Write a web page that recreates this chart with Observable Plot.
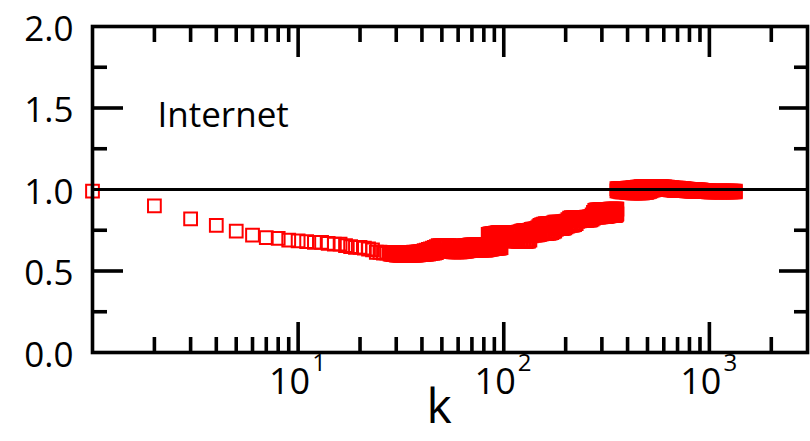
<!DOCTYPE html>
<html><head><meta charset="utf-8">
<script src="https://cdn.jsdelivr.net/npm/d3@7"></script>
<script src="https://cdn.jsdelivr.net/npm/@observablehq/plot@0.6"></script>
<style>html,body{margin:0;padding:0;background:#fff;overflow:hidden}svg{display:block}</style>
</head><body><div id="chart"></div>
<script>
// Isolated low-degree points (k, ratio)
const sparseDegree = [1,2,3,4,5,6,7,8,9,10,11,12,13,14,15,16,17,18,19,20,21,22,23,24,25,26,27];
const sparseRatio = [0.99,0.90,0.82,0.78,0.745,0.72,0.705,0.70,0.69,0.685,
  0.68,0.675,0.675,0.67,0.665,0.665,0.655,0.65,0.645,0.645,0.64,0.635,0.63,0.615,0.615,0.61,0.61];

// Dense region: at each degree, the upper and lower points of the scatter band
const bandDegree = [
  28,28.5,29,29.5,30,30.5,31,31.5,32,32.5,33,33.5,34,34.5,35,35.5,36,36.5,37,37.5,38,38.5,39,39.5,40,
  41,42,43,44,45,46,47,
  48,49,50,51,52,53,54,55,56,57,
  58,59,60,61,62,63,64,65,66,67,68,
  69,70,71,72,73,74,75,76,77,78,79,80,81,82,83,
  84,85,86,87,88,89,90,91,92,93,94,95,96,97,
  98,99,100,
  102,104,106,108,110,112,114,116,118,120,
  122,124,126,128,130,132,134,
  136,138,140,142,144,146,148,150,
  153,156,159,162,165,168,171,174,
  177,180,183,186,189,192,195,198,201,
  205,209,213,217,221,225,
  229,233,237,241,245,249,253,257,261,265,269,
  273,277,281,285,289,293,297,301,305,309,313,317,321,325,329,
  333,337,341,345,349,353,
  355,360,366,371,377,383,389,395,401,407,413,420,426,433,439,446,
  453,460,467,474,481,489,496,504,512,520,528,
  536,544,553,561,570,579,588,597,606,615,625,635,645,655,665,
  675,685,696,707,718,729,740,752,763,775,787,799,
  812,824,837,850,863,877,890,904,918,932,947,961,976,
  991,1007,1022,1038,1054,1071,1087,1104,1121,1139,1156,1174,1193,1211,1230,1249,1268,1288,1308,1337
];
const bandHigh = [
  0.612,0.612,0.613,0.613,0.613,0.613,0.614,0.613,0.612,0.613,0.614,0.613,0.612,0.613,0.614,0.613,0.614,0.615,0.614,0.615,0.616,0.617,0.618,0.619,0.62,
  0.625,0.628,0.632,0.636,0.64,0.645,0.65,
  0.655,0.656,0.656,0.655,0.655,0.656,0.655,0.654,0.653,0.652,
  0.652,0.651,0.651,0.652,0.652,0.653,0.654,0.655,0.656,0.657,0.658,
  0.66,0.66,0.661,0.661,0.66,0.66,0.661,0.661,0.66,0.66,0.661,0.661,0.66,0.66,0.662,
  0.725,0.726,0.727,0.728,0.729,0.73,0.731,0.732,0.733,0.734,0.735,0.736,0.736,0.736,
  0.736,0.736,0.736,
  0.736,0.733,0.73,0.73,0.73,0.73,0.732,0.735,0.738,0.742,
  0.745,0.747,0.747,0.748,0.748,0.749,0.75,
  0.755,0.757,0.757,0.758,0.76,0.765,0.772,0.78,
  0.785,0.788,0.79,0.79,0.79,0.79,0.792,0.795,
  0.80,0.80,0.80,0.80,0.80,0.801,0.802,0.804,0.806,
  0.815,0.825,0.828,0.828,0.828,0.828,
  0.828,0.828,0.828,0.828,0.828,0.829,0.83,0.83,0.832,0.835,0.845,
  0.86,0.872,0.875,0.875,0.875,0.876,0.876,0.876,0.877,0.877,0.877,0.878,0.878,0.878,0.879,
  0.88,0.88,0.88,0.88,0.88,0.88,
  1.006,1.006,1.006,1.006,1.006,1.006,1.007,1.007,1.008,1.008,1.009,1.01,1.011,1.012,1.013,1.014,
  1.015,1.016,1.017,1.017,1.017,1.018,1.018,1.018,1.018,1.018,1.018,
  1.018,1.018,1.018,1.017,1.017,1.017,1.017,1.016,1.016,1.015,1.014,1.013,1.012,1.011,1.01,
  1.009,1.008,1.008,1.008,1.007,1.007,1.006,1.005,1.004,1.003,1.002,1.001,
  1.0,1.0,1.0,0.999,0.999,0.998,0.998,0.997,0.996,0.995,0.994,0.993,0.992,
  0.991,0.99,0.99,0.99,0.99,0.99,0.99,0.99,0.99,0.99,0.99,0.99,0.99,0.99,0.99,0.99,0.99,0.99,0.99,0.99
];
const bandLow = [
  0.603,0.602,0.6,0.6,0.598,0.597,0.597,0.596,0.597,0.597,0.596,0.597,0.597,0.596,0.597,0.597,0.598,0.597,0.598,0.598,0.599,0.599,0.6,0.6,0.6,
  0.60,0.602,0.604,0.606,0.608,0.61,0.613,
  0.625,0.626,0.626,0.625,0.624,0.623,0.622,0.62,0.619,0.618,
  0.617,0.617,0.617,0.618,0.618,0.619,0.62,0.621,0.622,0.624,0.626,
  0.628,0.628,0.629,0.629,0.628,0.628,0.629,0.629,0.628,0.628,0.629,0.629,0.628,0.628,0.629,
  0.632,0.633,0.634,0.635,0.636,0.637,0.638,0.638,0.639,0.64,0.64,0.641,0.642,0.643,
  0.70,0.70,0.70,
  0.70,0.695,0.688,0.686,0.685,0.685,0.684,0.683,0.682,0.681,
  0.68,0.68,0.68,0.681,0.682,0.684,0.69,
  0.715,0.72,0.72,0.72,0.721,0.722,0.723,0.725,
  0.728,0.73,0.73,0.73,0.731,0.732,0.735,0.74,
  0.745,0.755,0.76,0.76,0.76,0.76,0.762,0.765,0.77,
  0.775,0.78,0.78,0.782,0.785,0.79,
  0.805,0.808,0.81,0.81,0.81,0.81,0.811,0.812,0.812,0.814,0.818,
  0.825,0.83,0.83,0.831,0.831,0.832,0.832,0.833,0.833,0.834,0.834,0.835,0.836,0.838,0.84,
  0.845,0.845,0.845,0.845,0.84,0.845,
  0.992,0.99,0.988,0.986,0.985,0.985,0.985,0.984,0.983,0.982,0.981,0.98,0.98,0.98,0.98,0.98,
  0.98,0.98,0.98,0.98,0.981,0.982,0.983,0.985,0.988,0.992,0.996,
  0.998,1.0,1.0,1.0,1.0,1.0,1.0,1.0,1.0,1.0,1.0,0.999,0.998,0.997,0.996,
  0.995,0.995,0.995,0.995,0.995,0.994,0.994,0.993,0.993,0.992,0.992,0.991,
  0.99,0.99,0.99,0.99,0.99,0.99,0.99,0.989,0.989,0.988,0.988,0.987,0.987,
  0.986,0.986,0.985,0.985,0.985,0.985,0.985,0.985,0.985,0.985,0.985,0.985,0.985,0.985,0.985,0.985,0.985,0.985,0.985,0.985
];
// the lower cluster also reaches k = 355 (value below 1)
const extraDegree = [355, 355];
const extraRatio = [0.88, 0.85];

const yTicks = [0, 0.5, 1, 1.5, 2];
const yMajorMarks = [0.5, 1.5];
const yMinorMarks = [0.25, 0.75, 1.25, 1.75];
const xMajorTicks = [10, 100, 1000];
const xExponents = ["1", "2", "3"];
const xMinorTicks = [2,3,4,5,6,7,8,9,20,30,40,50,60,70,80,90,200,300,400,500,600,700,800,900,2000];
const referenceLine = [1];
const panelLabel = "Internet";
const xLabel = "k";

const points = [
  ...sparseDegree.map((k, i) => ({k, r: sparseRatio[i]})),
  ...bandDegree.map((k, i) => ({k, r: bandLow[i]})),
  ...bandDegree.map((k, i) => ({k, r: bandHigh[i]})),
  ...extraDegree.map((k, i) => ({k, r: extraRatio[i]}))
];

const W = 810, H = 441, mL = 92, mR = 3, mT = 26, mB = 89;
const iw = W - mL - mR, ih = H - mT - mB;
const tw = 3.6;

const chart = Plot.plot({
  width: W, height: H,
  marginLeft: mL, marginRight: mR, marginTop: mT, marginBottom: mB,
  style: {fontFamily: "'Open Sans', sans-serif", background: "#fff", color: "#000", overflow: "visible"},
  x: {type: "log", domain: [1, 3000], axis: null},
  y: {domain: [0, 2], axis: null, label: null},
  marks: [
    Plot.dot(points, {x: "k", y: "r", symbol: "square", r: 7.2, stroke: "#ff0000", strokeWidth: 2, fill: "none"}),
    Plot.ruleY(referenceLine, {y: d => d, stroke: "#000", strokeWidth: 3}),
    // inward ticks
    Plot.tickX(xMajorTicks, {x: d => d, insetTop: ih - 30, stroke: "#000", strokeWidth: tw}),
    Plot.tickX(xMinorTicks, {x: d => d, insetTop: ih - 15, stroke: "#000", strokeWidth: tw}),
    Plot.tickX(xMajorTicks, {x: d => d, insetBottom: ih - 31, stroke: "#000", strokeWidth: tw}),
    Plot.tickX(xMinorTicks, {x: d => d, insetBottom: ih - 16, stroke: "#000", strokeWidth: tw}),
    Plot.tickY(yMajorMarks, {y: d => d, insetRight: iw - 31, stroke: "#000", strokeWidth: tw}),
    Plot.tickY(yMinorMarks, {y: d => d, insetRight: iw - 15, stroke: "#000", strokeWidth: tw}),
    Plot.tickY(yMajorMarks, {y: d => d, insetLeft: iw - 28, stroke: "#000", strokeWidth: tw}),
    Plot.tickY(yMinorMarks, {y: d => d, insetLeft: iw - 13, stroke: "#000", strokeWidth: tw}),
    Plot.frame({stroke: "#000", strokeWidth: 3.6}),
    Plot.axisY(yTicks, {tickSize: 0, tickPadding: 19, tickFormat: d3.format(".1f"), fontSize: 35, dy: 3, fill: "#000", label: null}),
    Plot.text(xMajorTicks, {x: d => d, text: () => "10", frameAnchor: "bottom", textAnchor: "end", dx: 12, dy: 41, fontSize: 36, fill: "#000"}),
    Plot.text(xMajorTicks, {x: d => d, text: (d, i) => xExponents[i], frameAnchor: "bottom", textAnchor: "start", dx: 14, dy: 18, fontSize: 24, fill: "#000"}),
    Plot.text([xLabel], {text: d => d, frameAnchor: "bottom", dx: -11, dy: 70, fontSize: 48, fill: "#000"}),
    Plot.text([panelLabel], {text: d => d, frameAnchor: "top-left", textAnchor: "start", dx: 65, dy: 76, fontSize: 35, fill: "#000"})
  ]
});
document.getElementById("chart").appendChild(chart);
</script>
</body></html>
